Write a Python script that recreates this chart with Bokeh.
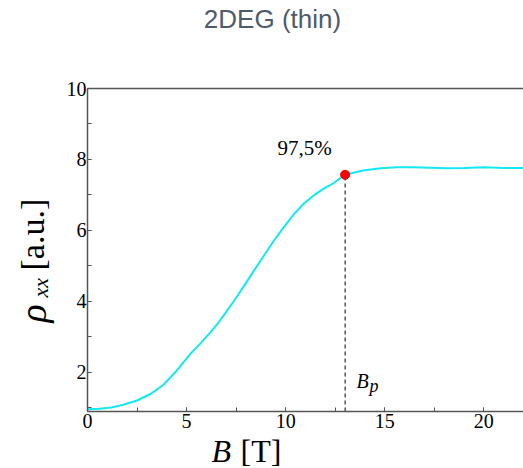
import math

from bokeh.embed import file_html
from bokeh.models import FixedTicker, Label, LinearAxis, SingleIntervalTicker
from bokeh.plotting import figure
from bokeh.resources import INLINE

# ---- data -------------------------------------------------------------
title_text = "2DEG (thin)"

# magnetic field B [T] and longitudinal resistivity rho_xx [a.u.]
B_field = [0.0, 0.6, 1.2, 1.8, 2.5, 3.2, 3.85, 4.5, 5.2, 5.7, 6.2, 6.6,
           6.9, 7.4, 7.9, 8.4, 8.9, 9.4, 9.9, 10.4, 10.9, 11.4, 11.9, 12.4,
           13.0, 13.9, 14.8, 15.6, 16.4, 17.3, 18.1, 19.0, 20.0, 21.0, 22.0]
rho_xx = [0.96, 0.98, 1.01, 1.09, 1.21, 1.40, 1.66, 2.05, 2.53, 2.82, 3.13,
          3.40, 3.63, 4.02, 4.44, 4.87, 5.29, 5.71, 6.09, 6.45, 6.75, 6.98,
          7.17, 7.33, 7.57, 7.69, 7.75, 7.78, 7.78, 7.77, 7.75, 7.76, 7.78,
          7.76, 7.76]

# saturation point B_p and its share of the plateau value
B_p = 13.0
rho_p = 7.57
percent_of_plateau = 97.5

x_tick_step = 5
y_tick_step = 2

# ---- geometry ---------------------------------------------------------
W, H = 523, 468
LEFT, TOP, BOTTOM = 87, 88, 57          # box edges on the canvas (px)
X0, X1 = 0.0, 22.0                      # visible B interval
Y0, Y1 = 0.9, 10.0                      # visible rho interval
SX = (W - LEFT) / (X1 - X0)             # px per tesla
SY = (H - TOP - BOTTOM) / (Y1 - Y0)     # px per rho unit


def dx(px):
    """Canvas pixel column -> data x."""
    return X0 + (px - LEFT) / SX


def dy(py):
    """Canvas pixel row -> data y."""
    return Y1 - (py - TOP) / SY


SERIF = "Liberation Serif"
AXIS_GRAY = "#555555"

# the frame spans the whole canvas; the axes sit at fixed data positions
p = figure(width=W, height=H,
           x_range=(dx(0), dx(W)), y_range=(dy(H), dy(0)),
           output_backend="svg", toolbar_location=None, min_border=0)
p.outline_line_color = None
p.grid.visible = False
p.background_fill_color = "white"
p.border_fill_color = "white"

xa, ya = p.xaxis[0], p.yaxis[0]
xa.fixed_location = Y0
xa.bounds = (X0, X1)
ya.fixed_location = X0
ya.bounds = (Y0, Y1)

for ax, step in ((xa, x_tick_step), (ya, y_tick_step)):
    ax.ticker = SingleIntervalTicker(interval=step, num_minor_ticks=2)
    ax.axis_line_color = AXIS_GRAY
    ax.axis_line_width = 1.5
    ax.major_tick_line_color = AXIS_GRAY
    ax.minor_tick_line_color = AXIS_GRAY
    ax.major_tick_in = 4
    ax.major_tick_out = 0
    ax.minor_tick_in = 4
    ax.minor_tick_out = 0
    ax.major_label_text_font = SERIF
    ax.major_label_text_font_size = "20px"
    ax.major_label_text_color = "black"

xa.major_label_standoff = 2
ya.major_label_standoff = 1

# top border of the box
top = LinearAxis(fixed_location=Y1, bounds=(X0, X1),
                 ticker=FixedTicker(ticks=[]),
                 axis_line_color=AXIS_GRAY, axis_line_width=1.5,
                 major_tick_in=0, major_tick_out=0,
                 minor_tick_in=0, minor_tick_out=0)
p.add_layout(top, "above")

# curve, marker and drop line
p.line(B_field, rho_xx, line_color="#12eaf2", line_width=2)
p.segment(x0=[B_p], y0=[Y0], x1=[B_p], y1=[rho_p],
          line_color="black", line_width=1, line_dash="4 3")
p.scatter([B_p], [rho_p], size=9, fill_color="#ff0000", line_color="#ee0000")

pct = f"{percent_of_plateau:.1f}%".replace(".", ",")
p.add_layout(Label(x=dx(304), y=dy(147), text=pct, text_font=SERIF,
                   text_font_size="21px", text_align="center",
                   text_baseline="alphabetic", text_color="black"))

# B_p annotation
p.add_layout(Label(x=dx(356), y=dy(380), text="B", text_font=SERIF,
                   text_font_style="italic", text_font_size="20px",
                   text_baseline="alphabetic", text_color="black"))
p.add_layout(Label(x=dx(369), y=dy(385), text="p", text_font=SERIF,
                   text_font_style="italic", text_font_size="18px",
                   text_baseline="alphabetic", text_color="black"))

# x-axis title
p.add_layout(Label(x=dx(211), y=dy(450), text="B", text_font=SERIF,
                   text_font_style="italic", text_font_size="32px",
                   text_baseline="alphabetic", text_color="black"))
p.add_layout(Label(x=dx(240), y=dy(450), text="[T]", text_font=SERIF,
                   text_font_size="32px",
                   text_baseline="alphabetic", text_color="black"))

# y-axis title, reading upwards
up = math.pi / 2
p.add_layout(Label(x=dx(32), y=dy(322), angle=up, text="ρ", text_font=SERIF,
                   text_font_style="italic", text_font_size="38px",
                   text_baseline="alphabetic", text_color="black"))
p.add_layout(Label(x=dx(40), y=dy(297), angle=up, text="xx", text_font=SERIF,
                   text_font_style="italic", text_font_size="22px",
                   text_baseline="alphabetic", text_color="black"))
p.add_layout(Label(x=dx(32), y=dy(270), angle=up, text="[a.u.]",
                   text_font=SERIF, text_font_size="34px",
                   text_baseline="alphabetic", text_color="black"))

# chart title
p.add_layout(Label(x=dx(272), y=dy(18), text=title_text,
                   text_font="Liberation Sans", text_font_size="26px",
                   text_align="center", text_baseline="alphabetic",
                   text_color="#4f5b69"))

open("out.html", "w").write(file_html(p, INLINE))
